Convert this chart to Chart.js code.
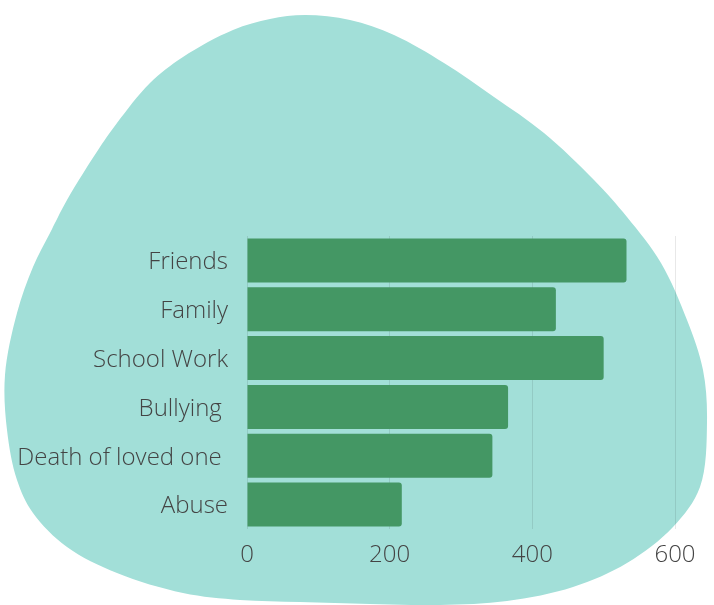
<!DOCTYPE html>
<html>
<head>
<meta charset="utf-8">
<script src="https://cdn.jsdelivr.net/npm/chart.js@4/dist/chart.umd.min.js"></script>
<style>
  html, body { margin: 0; padding: 0; background: #ffffff; }
  #wrap { width: 714px; height: 605px; position: relative; }
</style>
</head>
<body>
<div id="wrap"><canvas id="chart" width="714" height="605"></canvas></div>
<script>
// Stress sources and number of responses
const categories = ['Friends', 'Family', 'School Work', 'Bullying ', 'Death of loved one ', 'Abuse'];
const responses = [532, 433, 500, 366, 344, 217];
const xTickValues = [0, 200, 400, 600];

// Decorative backdrop: a soft organic blob behind the plot
const blobOutline = [
  [305, 15], [350, 20], [394, 35], [444, 63], [494, 97], [544, 133], [594, 180],
  [627, 217], [661, 263], [687, 320], [703, 370], [707, 422], [700, 487], [673, 527],
  [627, 563], [573, 587], [507, 601], [440, 605], [370, 604], [300, 602], [240, 600],
  [183, 593], [117, 573], [67, 547], [33, 513], [17, 480], [7, 430], [5, 375],
  [17, 313], [33, 267], [50, 233], [67, 200], [100, 147], [117, 123], [150, 83],
  [183, 57], [233, 30], [270, 19]
];

// Closed centripetal Catmull-Rom spline through the outline points
function traceBlob(ctx, p) {
  const n = p.length;
  const dist = (a, b) => Math.pow(Math.hypot(b[0] - a[0], b[1] - a[1]), 0.5) || 1e-4;
  ctx.moveTo(p[0][0], p[0][1]);
  for (let i = 0; i < n; i++) {
    const p0 = p[(i - 1 + n) % n], p1 = p[i], p2 = p[(i + 1) % n], p3 = p[(i + 2) % n];
    const d1 = dist(p0, p1), d2 = dist(p1, p2), d3 = dist(p2, p3);
    const b1 = [0, 1].map(k =>
      (d1 * d1 * p2[k] - d2 * d2 * p0[k] + (2 * d1 * d1 + 3 * d1 * d2 + d2 * d2) * p1[k]) /
      (3 * d1 * (d1 + d2)));
    const b2 = [0, 1].map(k =>
      (d3 * d3 * p1[k] - d2 * d2 * p3[k] + (2 * d3 * d3 + 3 * d3 * d2 + d2 * d2) * p2[k]) /
      (3 * d3 * (d3 + d2)));
    ctx.bezierCurveTo(b1[0], b1[1], b2[0], b2[1], p2[0], p2[1]);
  }
  ctx.closePath();
}

const blobBackdrop = {
  id: 'blobBackdrop',
  beforeDraw(chart) {
    const ctx = chart.ctx;
    ctx.save();
    ctx.beginPath();
    traceBlob(ctx, blobOutline);
    ctx.fillStyle = '#a2dfd8';
    ctx.fill();
    ctx.restore();
  }
};

const labelFont = { family: "'Open Sans', sans-serif", size: 24, weight: 300 };

new Chart(document.getElementById('chart'), {
  type: 'bar',
  data: {
    labels: categories,
    datasets: [{
      data: responses,
      backgroundColor: '#449764',
      borderRadius: 3,
      borderSkipped: 'start',
      categoryPercentage: 1,
      barPercentage: 0.901
    }]
  },
  options: {
    indexAxis: 'y',
    responsive: false,
    animation: false,
    layout: { padding: { top: 236, right: 39, left: 0, bottom: 0 } },
    plugins: {
      legend: { display: false },
      tooltip: { enabled: false }
    },
    scales: {
      x: {
        min: 0,
        max: 600,
        afterBuildTicks(scale) {
          scale.ticks = xTickValues.map(v => ({ value: v }));
        },
        afterFit(scale) { scale.height = 76; },
        grid: { color: 'rgba(0,0,0,0.09)', lineWidth: 1, drawTicks: false },
        border: { display: false },
        ticks: { color: '#444444', font: labelFont, padding: 12 }
      },
      y: {
        afterFit(scale) { scale.width = 247; },
        grid: { display: false, drawTicks: false },
        border: { display: false },
        ticks: { color: '#444444', font: labelFont, padding: 19, labelOffset: 2 }
      }
    }
  },
  plugins: [blobBackdrop]
});
</script>
</body>
</html>
